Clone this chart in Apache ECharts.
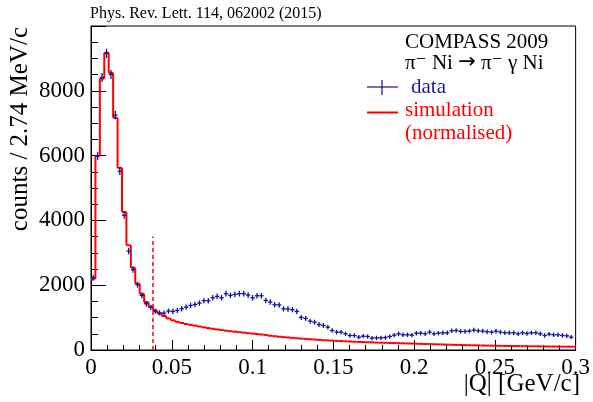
<!DOCTYPE html>
<html>
<head>
<meta charset="utf-8">
<script src="https://cdn.jsdelivr.net/npm/echarts@6/dist/echarts.min.js"></script>
<style>
html,body{margin:0;padding:0;background:#fff;}
#chart{width:593px;height:402px;}
</style>
</head>
<body>
<div id="chart"></div>
<script>
// ---- data ----
const binWidth = 0.00274; // GeV/c
const dataCounts = [
  2230, 5990, 8410, 9155, 8505, 7250, 5520, 4160, 3055, 2480,
  2015, 1685, 1430, 1315, 1200, 1145, 1140, 1200, 1190, 1220,
  1273, 1324, 1375, 1406, 1448, 1520, 1520, 1612, 1654, 1612,
  1737, 1685, 1716, 1737, 1737, 1695, 1612, 1675, 1675, 1530,
  1478, 1397, 1390, 1273, 1265, 1244, 1190, 1005, 974, 890,
  860, 788, 757, 705, 603, 550, 550, 500, 448, 448,
  396, 427, 417, 365, 375, 375, 385, 417, 458, 500,
  469, 469, 458, 520, 520, 500, 550, 500, 520, 530,
  530, 593, 603, 572, 572, 582, 613, 593, 582, 562,
  551, 582, 551, 531, 531, 531, 500, 531, 510, 531,
  531, 500, 448, 490, 469, 469, 448, 438, 396
];
const simCounts = [
  2200, 5990, 8380, 9175, 8555, 7165, 5620, 4260, 3230, 2540,
  2045, 1735, 1477, 1335, 1220, 1125, 1050, 975, 915, 870,
  835, 800, 775, 750, 725, 700, 675, 655, 635, 615,
  597, 580, 565, 550, 535, 520, 505, 492, 478, 465,
  440, 425, 411, 398, 386, 374, 362, 351, 341, 331,
  322, 313, 305, 297, 289, 282, 275, 268, 262, 256,
  250, 245, 240, 235, 230, 226, 222, 218, 214, 210,
  206, 202, 198, 194, 190, 186, 183, 178, 174, 170,
  166, 162, 158, 154, 151, 148, 145, 142, 139, 136,
  133, 131, 128, 126, 124, 122, 120, 118, 116, 114,
  113, 111, 110, 108, 107, 105, 104, 103, 102, 101
];
const xTickLabels = ['0', '0.05', '0.1', '0.15', '0.2', '0.25', '0.3'];
const yTickLabels = ['0', '2000', '4000', '6000', '8000'];
const cutQ = 0.0385;
const cutHeight = 3500;

// ---- chart ----
const SERIF = '"Liberation Serif", "DejaVu Serif", serif';
const BLUE = '#12129a';
const RED = '#ff0000';
const chart = echarts.init(document.getElementById('chart'), null, {renderer: 'canvas'});

const simItems = simCounts.map((v, i) => [i * binWidth, (i + 1) * binWidth, v, i > 0 ? simCounts[i - 1] : v]);
const dataItems = dataCounts.map((v, i) => [i * binWidth, (i + 1) * binWidth, v]);

const option = {
  backgroundColor: '#fff',
  animation: false,
  grid: {left: 91, right: 15, top: 26, bottom: 52, show: true, borderColor: '#000', borderWidth: 1, backgroundColor: 'transparent'},
  xAxis: {
    type: 'value', min: 0, max: 0.3, interval: 0.05,
    axisLine: {show: true, lineStyle: {color: '#000', width: 1}},
    axisTick: {show: true, inside: true, length: 10, lineStyle: {color: '#000'}},
    minorTick: {show: true, splitNumber: 5, length: 5, lineStyle: {color: '#000'}},
    splitLine: {show: false},
    axisLabel: {
      color: '#000', fontFamily: SERIF, fontSize: 23, margin: 6,
      formatter: (v, idx) => xTickLabels[Math.round(v / 0.05)] || ''
    }
  },
  yAxis: {
    type: 'value', min: 0, max: 10000, interval: 2000,
    axisLine: {show: true, lineStyle: {color: '#000', width: 1}},
    axisTick: {show: true, inside: true, length: 15, lineStyle: {color: '#000'}},
    minorTick: {show: true, splitNumber: 4, length: 7, lineStyle: {color: '#000'}},
    splitLine: {show: false},
    axisLabel: {
      color: '#000', fontFamily: SERIF, fontSize: 23, margin: 6,
      formatter: (v) => yTickLabels[Math.round(v / 2000)] || ''
    }
  },
  series: [
    {
      type: 'custom', name: 'simulation', clip: true, z: 3,
      encode: {x: [0, 1], y: 2},
      data: simItems,
      renderItem: (params, api) => {
        const lo = api.value(0), hi = api.value(1), v = api.value(2), prev = api.value(3);
        const a = api.coord([lo, v]), b = api.coord([hi, v]), c = api.coord([lo, prev]);
        const st = {stroke: RED, lineWidth: 2, fill: null};
        return {type: 'group', children: [
          {type: 'line', shape: {x1: a[0], y1: a[1], x2: b[0], y2: b[1]}, style: st},
          {type: 'line', shape: {x1: c[0], y1: c[1], x2: a[0], y2: a[1]}, style: st}
        ]};
      }
    },
    {
      type: 'custom', name: 'data', clip: true, z: 4,
      encode: {x: [0, 1], y: 2},
      data: dataItems,
      renderItem: (params, api) => {
        const lo = api.value(0), hi = api.value(1), v = api.value(2);
        const e = Math.sqrt(v);
        const mid = (lo + hi) / 2;
        const a = api.coord([lo, v]), b = api.coord([hi, v]);
        const t = api.coord([mid, v + e]), u = api.coord([mid, v - e]);
        const st = {stroke: BLUE, lineWidth: 1.3, fill: null};
        return {type: 'group', children: [
          {type: 'line', shape: {x1: a[0], y1: a[1], x2: b[0], y2: b[1]}, style: st},
          {type: 'line', shape: {x1: t[0], y1: t[1] - 1.5, x2: u[0], y2: u[1] + 1.5}, style: st}
        ]};
      }
    },
    {
      type: 'line', name: 'cut', data: [], silent: true,
      markLine: {
        symbol: 'none', silent: true, label: {show: false},
        lineStyle: {color: RED, type: [4, 3], width: 1.5},
        data: [[{coord: [cutQ, 0]}, {coord: [cutQ, cutHeight]}]]
      }
    }
  ],
  graphic: [
    {type: 'text', x: 90, y: 14, style: {text: 'Phys. Rev. Lett. 114, 062002 (2015)', font: '16px ' + SERIF, fill: '#000', textAlign: 'left', textVerticalAlign: 'middle'}},
    {type: 'text', x: 20, y: 27, rotation: Math.PI / 2, style: {text: 'counts / 2.74 MeV/c', font: '25px ' + SERIF, fill: '#000', textAlign: 'right', textVerticalAlign: 'middle'}},
    {type: 'text', x: 580, y: 384, style: {text: '|Q| [GeV/c]', font: '25px ' + SERIF, fill: '#000', textAlign: 'right', textVerticalAlign: 'middle'}},
    {type: 'text', x: 405, y: 42, style: {text: 'COMPASS 2009', font: '21px ' + SERIF, fill: '#000', textAlign: 'left', textVerticalAlign: 'middle'}},
    {type: 'text', x: 405, y: 63, style: {
      text: '{a|π\u207B Ni }{b|\u2192}{a| π\u207B γ Ni}',
      textAlign: 'left', textVerticalAlign: 'middle',
      rich: {
        a: {fontFamily: SERIF, fontSize: 21, fill: '#000', color: '#000'},
        b: {fontFamily: '"DejaVu Sans", sans-serif', fontSize: 21, fill: '#000', color: '#000'}
      }
    }},
    {type: 'line', shape: {x1: 367, y1: 87, x2: 398, y2: 87}, style: {stroke: BLUE, lineWidth: 1.2}},
    {type: 'line', shape: {x1: 382, y1: 80, x2: 382, y2: 95}, style: {stroke: BLUE, lineWidth: 1.2}},
    {type: 'text', x: 411, y: 87, style: {text: 'data', font: '21px ' + SERIF, fill: '#1a1a9a', textAlign: 'left', textVerticalAlign: 'middle'}},
    {type: 'line', shape: {x1: 367, y1: 112.5, x2: 398, y2: 112.5}, style: {stroke: RED, lineWidth: 2}},
    {type: 'text', x: 405, y: 110, style: {text: 'simulation', font: '21px ' + SERIF, fill: RED, textAlign: 'left', textVerticalAlign: 'middle'}},
    {type: 'text', x: 405, y: 133, style: {text: '(normalised)', font: '21px ' + SERIF, fill: RED, textAlign: 'left', textVerticalAlign: 'middle'}}
  ]
};
chart.setOption(option);
</script>
</body>
</html>
